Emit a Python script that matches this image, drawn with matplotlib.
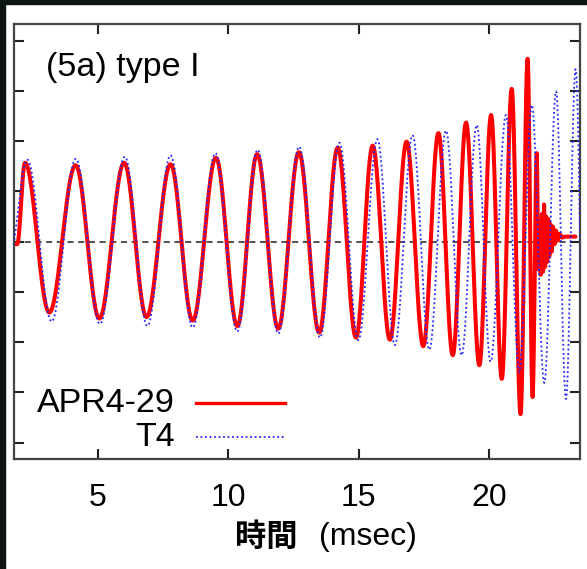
import numpy as np
import matplotlib
matplotlib.use("Agg")
import matplotlib.pyplot as plt
from matplotlib.patches import Rectangle

# extrema of the waveforms (time in msec, amplitude in tick units)
apr_t = [1.78, 1.90, 2.20, 3.13, 4.14, 5.05, 6.00, 6.86, 7.78, 8.63, 9.52, 10.34,
         11.10, 11.91, 12.70, 13.48, 14.19, 14.89, 15.53, 16.19, 16.83, 17.47, 18.05,
         18.60, 19.11, 19.62, 20.07, 20.48, 20.86, 21.20, 21.47, 21.66, 21.82,
         21.88, 21.93, 21.97, 22.02, 22.06, 22.10, 22.14, 22.18, 22.22, 22.26, 22.30,
         22.34, 22.39, 22.44, 22.50, 22.56, 22.62, 22.70, 22.80, 22.90, 23.30]
apr_v = [-0.05, -0.05, 1.57, -1.41, 1.52, -1.53, 1.57, -1.50, 1.54, -1.57, 1.67, -1.68,
         1.74, -1.73, 1.78, -1.81, 1.87, -1.91, 1.91, -1.95, 1.99, -2.08, 2.16,
         -2.26, 2.37, -2.46, 2.52, -2.73, 3.04, -3.43, 3.64, -3.09, 1.76,
         -0.55, 0.40, -0.66, 0.55, -0.60, 0.74, -0.50, 0.50, -0.40, 0.45, -0.30,
         0.35, -0.20, 0.30, -0.05, 0.22, 0.02, 0.15, 0.08, 0.10, 0.10]

t4_t = [1.60, 2.29, 3.22, 4.15, 5.07, 6.03, 6.89, 7.78, 8.63, 9.50, 10.34, 11.12,
        11.91, 12.71, 13.51, 14.25, 14.98, 15.71, 16.38, 17.06, 17.70, 18.34, 18.94,
        19.52, 20.05, 20.64, 21.15, 21.63, 22.11, 22.56, 22.94, 23.31, 23.66]
t4_v = [-0.30, 1.63, -1.59, 1.65, -1.64, 1.69, -1.68, 1.72, -1.71, 1.76, -1.79, 1.83,
        -1.83, 1.89, -1.91, 1.97, -1.96, 2.04, -2.06, 2.12, -2.15, 2.21, -2.26,
        2.32, -2.39, 2.52, -2.59, 2.72, -2.81, 2.99, -3.13, 3.43, -3.40]

xticks = [5, 10, 15, 20]
yticks = [-4, -3, -2, -1, 0, 1, 2, 3, 4]


def half_cycles(te, ve, n=30):
    # join consecutive extrema with half-cosine arcs
    ts, vs = [], []
    for i in range(len(te) - 1):
        s = np.linspace(0, 1, n, endpoint=False)
        ts.append(te[i] + (te[i + 1] - te[i]) * s)
        vs.append(ve[i] + (ve[i + 1] - ve[i]) * (1 - np.cos(np.pi * s)) / 2)
    ts.append([te[-1]])
    vs.append([ve[-1]])
    return np.concatenate(ts), np.concatenate(vs)


plt.rcParams['font.family'] = ['Liberation Sans', 'DejaVu Sans']

fig = plt.figure(figsize=(5.87, 5.69), dpi=100)
fig.patch.set_facecolor('white')
ax = fig.add_axes([0.0239, 0.1928, 0.9647, 0.765])

x1, y1 = half_cycles(apr_t, apr_v)
x2, y2 = half_cycles(t4_t, t4_v)

ax.axhline(0, color='#222222', lw=1.1, ls=(0, (4, 3)), zorder=1)
ax.plot(x1, y1, color='#ff0000', lw=2.9, solid_capstyle='round', zorder=2)
ax.plot(x2, y2, color='#2424ff', lw=1.3, ls=(0, (1, 1.5)), zorder=3)

ax.set_xlim(1.78, 23.49)
ax.set_ylim(-4.33, 4.33)
ax.set_xticks(xticks)
ax.set_yticks(yticks)
ax.set_yticklabels([])
ax.tick_params(direction='in', length=7, width=1.5, color='#222222',
               top=True, right=True, labelsize=23, pad=17)
for sp in ax.spines.values():
    sp.set_color('#444444')
    sp.set_linewidth(1.6)

ax.text(0.056, 0.899, '(5a) type I', transform=ax.transAxes, fontsize=24.5,
        ha='left', va='center')

# legend drawn by hand: labels right-aligned, sample line to the right
ax.text(0.284, 0.129, 'APR4-29', transform=ax.transAxes, fontsize=24.5,
        ha='right', va='center')
ax.text(0.284, 0.051, 'T4', transform=ax.transAxes, fontsize=24.5,
        ha='right', va='center')
ax.plot([0.322, 0.478], [0.129, 0.129], transform=ax.transAxes,
        color='#ff0000', lw=2.4)
ax.plot([0.322, 0.478], [0.051, 0.051], transform=ax.transAxes,
        color='#2424ff', lw=1.3, ls=(0, (1, 1.5)))

# x label: bold kanji + regular latin
fig.text(235 / 587, 1 - 537 / 569, '時間', fontsize=22.5, fontweight='bold',
         family=['Noto Sans CJK JP', 'DejaVu Sans'], ha='left', va='center')
fig.text(319 / 587, 1 - 537 / 569, '(msec)', fontsize=23, ha='left', va='center')

# dark slide edge on the left and top
fig.patches.append(Rectangle((0, 0), 5 / 587, 1, transform=fig.transFigure,
                             color='#0c1414', zorder=10))
fig.patches.append(Rectangle((0, 1 - 4 / 569), 1, 4 / 569, transform=fig.transFigure,
                             color='#0c1414', zorder=10))

fig.savefig('out.png', dpi=100)
